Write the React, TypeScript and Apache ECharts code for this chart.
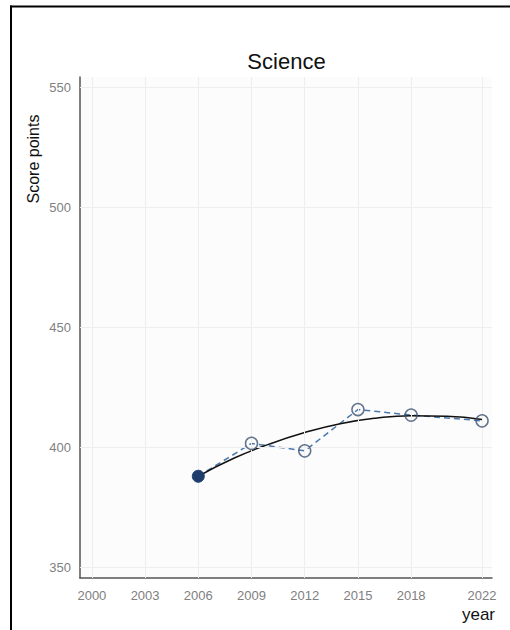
import React, { useEffect, useRef } from "react";
import * as echarts from "echarts";

const titleText = "Science";
const yAxisTitle = "Score points";
const xAxisTitle = "year";

const xTicks = [2000, 2003, 2006, 2009, 2012, 2015, 2018, 2022];
const yTicks = [350, 400, 450, 500, 550];

const waveYears = [2006, 2009, 2012, 2015, 2018, 2022];
const waveScores = [388.0, 401.7, 398.6, 415.8, 413.5, 411.1];

const trendYears = [2006, 2008, 2010, 2012, 2014, 2016, 2018, 2020, 2022];
const trendScores = [388.0, 395.5, 401.4, 406.2, 409.9, 412.2, 413.2, 413.0, 411.7];

export default function App() {
  const ref = useRef<HTMLDivElement>(null);

  useEffect(() => {
    if (!ref.current) return;
    const chart = echarts.init(ref.current, undefined, { renderer: "svg" });
    const font = "'Liberation Sans', Arial, Helvetica, sans-serif";

    const points = waveYears.map((y, i) => [y, waveScores[i]]);

    const option: any = {
      animation: false,
      backgroundColor: "#ffffff",
      grid: {
        left: 80,
        right: 18,
        top: 77,
        bottom: 52,
        show: true,
        backgroundColor: "#fcfcfc",
        borderWidth: 0,
      },
      xAxis: {
        type: "value",
        min: 1999.33,
        max: 2022.56,
        axisLine: { show: true, lineStyle: { color: "#555555", width: 1.5 } },
        axisTick: {
          show: true,
          inside: true,
          length: 5,
          customValues: xTicks,
          lineStyle: { color: "#9a9a9a", width: 1 },
        },
        axisLabel: {
          customValues: xTicks,
          color: "#808080",
          fontSize: 13,
          fontFamily: font,
          margin: 11,
          formatter: (v: number) => String(Math.round(v)),
        },
        splitLine: { show: false },
      },
      yAxis: {
        type: "value",
        min: 345.6,
        max: 554.4,
        axisLine: { show: true, lineStyle: { color: "#555555", width: 1.5 } },
        axisTick: {
          show: true,
          inside: true,
          length: 5,
          customValues: yTicks,
          lineStyle: { color: "#9a9a9a", width: 1 },
        },
        axisLabel: {
          customValues: yTicks,
          color: "#808080",
          fontSize: 13,
          fontFamily: font,
          margin: 9,
          formatter: (v: number) => String(Math.round(v)),
        },
        splitLine: { show: false },
      },
      graphic: [
        {
          type: "line",
          shape: { x1: 10, y1: 6.5, x2: 510, y2: 6.5 },
          style: { stroke: "#000000", lineWidth: 2 },
        },
        {
          type: "line",
          shape: { x1: 11, y1: 5.5, x2: 11, y2: 630 },
          style: { stroke: "#000000", lineWidth: 2 },
        },
        {
          type: "text",
          x: 286.5,
          y: 61,
          style: {
            text: titleText,
            fontSize: 22,
            fontFamily: font,
            fill: "#111111",
            align: "center",
            verticalAlign: "middle",
          },
        },
        {
          type: "text",
          x: 33,
          y: 159,
          rotation: Math.PI / 2,
          style: {
            text: yAxisTitle,
            fontSize: 16,
            fontFamily: font,
            fill: "#111111",
            align: "center",
            verticalAlign: "middle",
          },
        },
        {
          type: "text",
          x: 495,
          y: 614,
          style: {
            text: xAxisTitle,
            fontSize: 17,
            fontFamily: font,
            fill: "#111111",
            align: "right",
            verticalAlign: "middle",
          },
        },
      ],
      series: [
        {
          type: "line",
          name: "grid",
          data: [],
          silent: true,
          markLine: {
            silent: true,
            symbol: "none",
            label: { show: false },
            lineStyle: { color: "#eeeeee", width: 1, type: "solid" },
            data: [
              ...xTicks.map((v) => ({ xAxis: v })),
              ...yTicks.map((v) => ({ yAxis: v })),
            ],
          },
        },
        {
          type: "line",
          name: "scores",
          data: points,
          symbol: "none",
          lineStyle: { color: "#4a78ae", width: 1.5, type: [6, 4] },
          z: 2,
        },
        {
          type: "line",
          name: "trend",
          data: trendYears.map((y, i) => [y, trendScores[i]]),
          smooth: true,
          symbol: "none",
          lineStyle: { color: "#111111", width: 1.5 },
          z: 3,
        },
        {
          type: "scatter",
          name: "later waves",
          data: points.slice(1),
          symbol: "circle",
          symbolSize: 12,
          itemStyle: {
            color: "rgba(255,255,255,0)",
            borderColor: "#3c5270",
            borderWidth: 1.5,
          },
          z: 5,
        },
        {
          type: "scatter",
          name: "first wave",
          data: points.slice(0, 1),
          symbol: "circle",
          symbolSize: 12,
          itemStyle: {
            color: "#1f3d6b",
            borderColor: "#1f3d6b",
            borderWidth: 1,
            opacity: 1,
          },
          z: 6,
        },
      ],
    };

    chart.setOption(option);
    return () => {
      chart.dispose();
    };
  }, []);

  return (
    <div
      ref={ref}
      style={{ position: "fixed", left: 0, top: 0, width: 510, height: 630 }}
    />
  );
}
